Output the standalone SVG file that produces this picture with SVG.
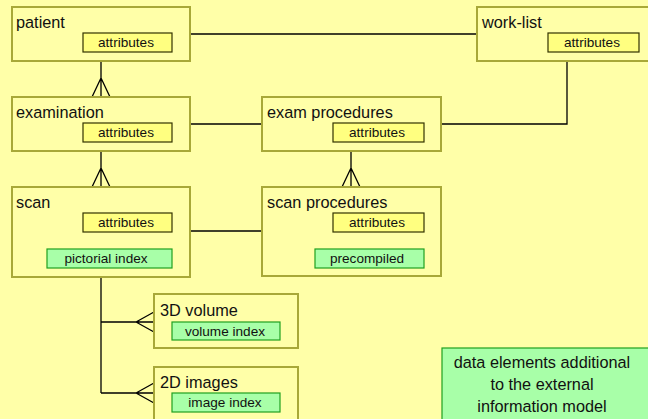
<svg xmlns="http://www.w3.org/2000/svg" width="648" height="419" viewBox="0 0 648 419">
  <style>
    .box { fill: #ffffa8; stroke: #a8a838; stroke-width: 2; }
    .attr { fill: #ffff80; stroke: #333300; stroke-width: 1.2; }
    .idx { fill: #a8ffa8; stroke: #20a020; stroke-width: 1.2; }
    .title { font-family: "Liberation Sans", Arial, sans-serif; font-size: 16.3px; fill: #111; }
    .lbl { font-family: "Liberation Sans", Arial, sans-serif; font-size: 13.6px; fill: #111; text-anchor: middle; }
    .legend { font-family: "Liberation Sans", Arial, sans-serif; font-size: 16.3px; fill: #111; text-anchor: middle; }
    .conn { fill: none; stroke: #000; stroke-width: 1.3; }
  </style>
  <rect width="648" height="419" fill="#ffffa8"/>

  <g id="connectors">
    <!-- patient to work-list -->
    <path class="conn" d="M190,34 H477"/>
    <!-- patient to examination, many side at examination -->
    <path class="conn" d="M101,61 V97 M101,78 L92,97 M101,78 L110,97"/>
    <!-- examination to exam procedures -->
    <path class="conn" d="M190,124 H262"/>
    <!-- exam procedures to work-list -->
    <path class="conn" d="M441,124 H567 V61"/>
    <!-- examination to scan -->
    <path class="conn" d="M101,151 V187 M101,168 L92,187 M101,168 L110,187"/>
    <!-- exam procedures to scan procedures -->
    <path class="conn" d="M351,151 V187 M351,168 L342,187 M351,168 L360,187"/>
    <!-- scan to scan procedures -->
    <path class="conn" d="M190,231 H262"/>
    <!-- scan to 3D volume and 2D images -->
    <path class="conn" d="M101,277 V393"/>
    <path class="conn" d="M101,322 H154 M136,322 L154,312 M136,322 L154,332"/>
    <path class="conn" d="M101,393 H154 M136,393 L154,383 M136,393 L154,403"/>
  </g>

  <g id="patient">
    <rect class="box" x="12" y="7" width="178" height="54"/>
    <text class="title" x="16" y="28">patient</text>
    <rect class="attr" x="83" y="33" width="89" height="19"/>
    <text class="lbl" x="126" y="47">attributes</text>
  </g>

  <g id="work-list">
    <rect class="box" x="477" y="7" width="190" height="54"/>
    <text class="title" x="482" y="28">work-list</text>
    <rect class="attr" x="548" y="33" width="91" height="19"/>
    <text class="lbl" x="592" y="47">attributes</text>
  </g>

  <g id="examination">
    <rect class="box" x="12" y="97" width="178" height="54"/>
    <text class="title" x="16" y="118">examination</text>
    <rect class="attr" x="83" y="123" width="89" height="19"/>
    <text class="lbl" x="126" y="137">attributes</text>
  </g>

  <g id="exam-procedures">
    <rect class="box" x="262" y="97" width="179" height="54"/>
    <text class="title" x="267" y="118">exam procedures</text>
    <rect class="attr" x="333" y="123" width="91" height="19"/>
    <text class="lbl" x="377" y="137">attributes</text>
  </g>

  <g id="scan">
    <rect class="box" x="12" y="187" width="178" height="90"/>
    <text class="title" x="16" y="208">scan</text>
    <rect class="attr" x="83" y="213" width="89" height="19"/>
    <text class="lbl" x="126" y="227">attributes</text>
    <rect class="idx" x="47" y="249" width="125" height="19"/>
    <text class="lbl" x="106" y="263">pictorial index</text>
  </g>

  <g id="scan-procedures">
    <rect class="box" x="262" y="187" width="179" height="89"/>
    <text class="title" x="267" y="208">scan procedures</text>
    <rect class="attr" x="333" y="213" width="91" height="19"/>
    <text class="lbl" x="377" y="227">attributes</text>
    <rect class="idx" x="315" y="249" width="109" height="19"/>
    <text class="lbl" x="367" y="263">precompiled</text>
  </g>

  <g id="volume-3d">
    <rect class="box" x="154" y="294" width="144" height="54"/>
    <text class="title" x="160" y="316">3D volume</text>
    <rect class="idx" x="172" y="322" width="108" height="18"/>
    <text class="lbl" x="225" y="336">volume index</text>
  </g>

  <g id="images-2d">
    <rect class="box" x="154" y="367" width="144" height="70"/>
    <text class="title" x="160" y="388">2D images</text>
    <rect class="idx" x="172" y="393" width="108" height="19"/>
    <text class="lbl" x="225" y="407">image index</text>
  </g>

  <g id="legend">
    <rect class="idx" x="442" y="348" width="220" height="90"/>
    <text class="legend" x="542" y="368">data elements additional</text>
    <text class="legend" x="542" y="390">to the external</text>
    <text class="legend" x="542" y="412">information model</text>
  </g>
</svg>
